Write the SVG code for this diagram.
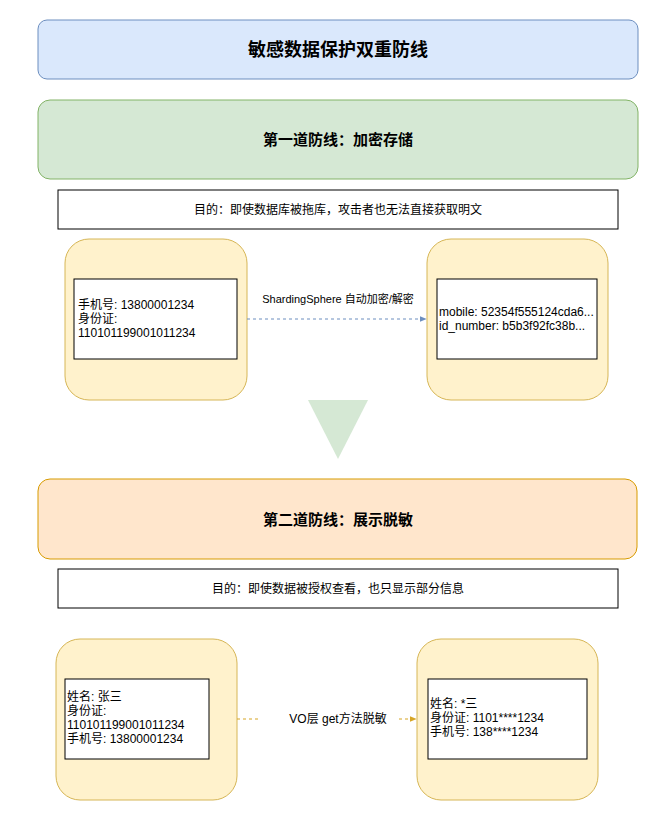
<svg xmlns="http://www.w3.org/2000/svg" width="652" height="836" viewBox="0 0 652 836">
<defs>
<style>
text{font-family:"Liberation Sans","Noto Sans CJK SC",sans-serif;fill:#000}
.t{font-size:18px;font-weight:bold;text-anchor:middle}
.s{font-size:12px}
.c{text-anchor:middle}
.y{fill:#fff2cc;stroke:#d6b656}
.w{fill:#fff;stroke:#000}
</style>
<marker id="ab" viewBox="0 0 10 10" refX="9" refY="5" markerWidth="7" markerHeight="7" orient="auto"><path d="M0,1L10,5L0,9Z" fill="#6c8ebf"/></marker>
<marker id="ay" viewBox="0 0 10 10" refX="9" refY="5" markerWidth="7" markerHeight="7" orient="auto"><path d="M0,1L10,5L0,9Z" fill="#d6a525"/></marker>
</defs>
<rect width="652" height="836" fill="#fff"/>
<g id="title"><rect x="38" y="20" width="600" height="59" rx="9" fill="#dae8fc" stroke="#6c8ebf"/><text class="t" x="338" y="56">敏感数据保护双重防线</text></g>
<g id="layer1"><rect x="38" y="100" width="600" height="79" rx="12" fill="#d5e8d4" stroke="#82b366"/><text class="t" x="338" y="145" style="font-size:15px">第一道防线：加密存储</text></g>
<g id="goal1"><rect x="58" y="190" width="560" height="39" class="w"/><text class="s c" x="338" y="214">目的：即使数据库被拖库，攻击者也无法直接获取明文</text></g>
<g id="plain1"><rect x="65" y="239" width="182" height="161" rx="24" class="y"/><rect x="74" y="279" width="163" height="80" class="w"/><text class="s" x="78" y="309">手机号: 13800001234</text><text class="s" x="78" y="323">身份证:</text><text class="s" x="78" y="337">110101199001011234</text></g>
<g id="cipher1"><rect x="427" y="239" width="181" height="161" rx="24" class="y"/><rect x="437" y="279" width="160" height="80" class="w"/><text class="s" x="439" y="316">mobile: 52354f555124cda6...</text><text class="s" x="439" y="330">id_number: b5b3f92fc38b...</text></g>
<g id="down"><path d="M308,400L368,400L338,459Z" fill="#d5e8d4"/></g>
<g id="layer2"><rect x="38" y="479" width="599" height="80" rx="12" fill="#ffe6cc" stroke="#d79b00"/><text class="t" x="338" y="525" style="font-size:15px">第二道防线：展示脱敏</text></g>
<g id="goal2"><rect x="58" y="569" width="560" height="39" class="w"/><text class="s c" x="338" y="593">目的：即使数据被授权查看，也只显示部分信息</text></g>
<g id="plain2"><rect x="56" y="639" width="181" height="161" rx="24" class="y"/><rect x="65" y="679" width="144" height="80" class="w"/><text class="s" x="67" y="701">姓名: 张三</text><text class="s" x="67" y="715">身份证:</text><text class="s" x="67" y="729">110101199001011234</text><text class="s" x="67" y="743">手机号: 13800001234</text></g>
<g id="masked2"><rect x="417" y="639" width="181" height="161" rx="24" class="y"/><rect x="428" y="679" width="159" height="80" class="w"/><text class="s" x="430" y="708">姓名: *三</text><text class="s" x="430" y="722">身份证: 1101****1234</text><text class="s" x="430" y="736">手机号: 138****1234</text></g>
<g id="connectors">
<path d="M247,319L426,319" stroke="#6c8ebf" stroke-dasharray="3,3" fill="none" marker-end="url(#ab)"/>
<text x="338" y="303" class="c" style="font-size:11px">ShardingSphere 自动加密/解密</text>
<path d="M237,719L416,719" stroke="#d6a525" stroke-dasharray="3,3" fill="none" marker-end="url(#ay)"/>
<rect x="258" y="711" width="42" height="16" fill="#fff"/>
<rect x="258" y="711" width="42" height="16" fill="none"/>
<rect x="259" y="711" width="141" height="0" fill="none"/>
<rect x="258" y="711" width="42" height="0"/>
<rect x="259" y="712" width="40" height="0"/>
<rect x="278" y="711" width="24" height="0"/>
<rect x="281" y="711" width="0" height="0"/>
<rect x="281" y="711" width="0" height="0"/>
<rect x="281" y="711" width="0" height="0"/>
<rect x="281" y="711" width="0" height="0"/>
<rect x="281" y="711" width="0" height="0"/>
<rect x="281" y="711" width="0" height="0"/>
<rect x="281" y="711" width="0" height="0"/>
<rect x="281" y="711" width="0" height="0"/>
<rect x="281" y="711" width="0" height="0"/>
<rect x="280" y="711" width="116" height="16" fill="#fff"/>
<text x="338" y="723" class="c" style="font-size:12px">VO层 get方法脱敏</text>
</g>
</svg>
